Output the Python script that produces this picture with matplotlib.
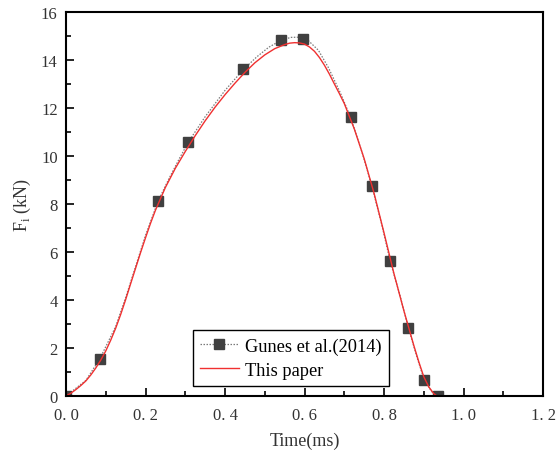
import numpy as np
import matplotlib
matplotlib.use("Agg")
from matplotlib import pyplot as plt
from matplotlib.ticker import MultipleLocator

# Gunes et al.(2014) markers
gunes_t = [0.0, 0.085, 0.232, 0.308, 0.445, 0.54, 0.595, 0.716, 0.769, 0.815, 0.861, 0.901, 0.935]
gunes_f = [0.0, 1.55, 8.15, 10.6, 13.65, 14.85, 14.9, 11.62, 8.78, 5.65, 2.85, 0.68, 0.0]

# the dotted gray curve drawn through them (sampled along the picture)
gunes_line_t = [0.0, 0.05, 0.085, 0.125, 0.15, 0.175, 0.2, 0.232, 0.26, 0.285, 0.308, 0.35, 0.4, 0.445,
                0.48, 0.51, 0.54, 0.565, 0.59, 0.61, 0.635, 0.66, 0.69, 0.716, 0.745, 0.769, 0.795,
                0.815, 0.84, 0.861, 0.885, 0.901, 0.92, 0.935]
gunes_line_f = [0.0, 0.65, 1.55, 2.9, 4.1, 5.4, 6.7, 8.15, 9.1, 9.9, 10.6, 11.65, 12.75, 13.6,
                14.15, 14.55, 14.83, 14.96, 14.97, 14.82, 14.42, 13.7, 12.65, 11.62, 10.15, 8.78, 7.1,
                5.65, 4.2, 2.85, 1.5, 0.68, 0.18, 0.0]

# This paper (red curve)
paper_t = [0.0, 0.0125, 0.025, 0.0375, 0.05, 0.0625, 0.075, 0.0875, 0.1, 0.1125, 0.125, 0.1375,
           0.15, 0.1625, 0.175, 0.1875, 0.2, 0.2125, 0.225, 0.25, 0.275, 0.3, 0.325,
           0.35, 0.375, 0.4, 0.425, 0.45, 0.475, 0.5, 0.525, 0.55, 0.5625, 0.575, 0.5875, 0.6,
           0.6125, 0.625, 0.6375, 0.65, 0.6625, 0.675, 0.6875,
           0.7, 0.725, 0.75, 0.775, 0.8, 0.825, 0.85, 0.875, 0.8875, 0.9, 0.9125, 0.925, 0.933]
paper_f = [0.0, 0.12, 0.27, 0.44, 0.63, 0.88, 1.17, 1.5, 1.88, 2.33, 2.83, 3.4,
           4.02, 4.68, 5.33, 5.98, 6.6, 7.2, 7.75, 8.7, 9.5, 10.2, 10.86,
           11.48, 12.05, 12.57, 13.05, 13.5, 13.9, 14.23, 14.49, 14.66, 14.72, 14.74, 14.73, 14.68,
           14.56, 14.38, 14.12, 13.8, 13.43, 13.02, 12.62,
           12.2, 11.15, 9.9, 8.45, 6.8, 5.1, 3.55, 2.1, 1.42, 0.8, 0.38, 0.1, 0.0]

plt.rcParams['font.family'] = ['Liberation Serif', 'DejaVu Serif']
plt.rcParams['mathtext.fontset'] = 'custom'
plt.rcParams['mathtext.rm'] = 'Liberation Serif'

fig = plt.figure(figsize=(5.57, 4.52), dpi=100)
ax = fig.add_axes([0.1185, 0.1217, 0.8565, 0.8485])

ax.plot(gunes_line_t, gunes_line_f, color='#7a7a7a', lw=0.9, ls=(0, (1.2, 1.2)))
ax.plot(gunes_t, gunes_f, ls='none', marker='s', ms=6.5, color='#404040')
ax.plot(paper_t, paper_f, color='#f03030', lw=1.0)

# legend proxies
h1, = ax.plot([], [], color='#7a7a7a', marker='s', ms=6.5, lw=0.9, ls=(0, (1.2, 1.2)),
              mfc='#404040', mec='#404040')
h2, = ax.plot([], [], color='#f03030', lw=1.0)
leg = ax.legend([h1, h2], ['Gunes et al.(2014)', 'This paper'], loc='lower left',
                bbox_to_anchor=(0.266, 0.026), borderaxespad=0, fancybox=False,
                edgecolor='black', fontsize=13.2, handlelength=2.1, handletextpad=0.35,
                borderpad=0.4, labelspacing=0.38, framealpha=1)
leg.get_frame().set_linewidth(1.0)

ax.set_xlim(0, 1.2)
ax.set_ylim(0, 16)
ax.xaxis.set_major_locator(MultipleLocator(0.2))
ax.xaxis.set_minor_locator(MultipleLocator(0.1))
ax.yaxis.set_major_locator(MultipleLocator(2))
ax.yaxis.set_minor_locator(MultipleLocator(1))
ax.xaxis.set_major_formatter(plt.FuncFormatter(lambda v, p: f"{v:.1f}".replace('.', '. ')))
ax.tick_params(which='both', direction='in', top=False, right=False, width=1.2,
               labelsize=12, labelcolor='#333333')
ax.tick_params(which='major', length=6)
ax.tick_params(which='minor', length=3.5)
ax.tick_params(axis='x', pad=8)
ax.tick_params(axis='y', pad=6)
for s in ax.spines.values():
    s.set_linewidth(1.5)

ax.set_xlabel('Time(ms)', fontsize=13, color='#333333', labelpad=6)
ax.set_ylabel(r'F$_\mathrm{i}$ (kN)', fontsize=13, color='#333333', labelpad=6)

fig.savefig('out.png', dpi=100)
